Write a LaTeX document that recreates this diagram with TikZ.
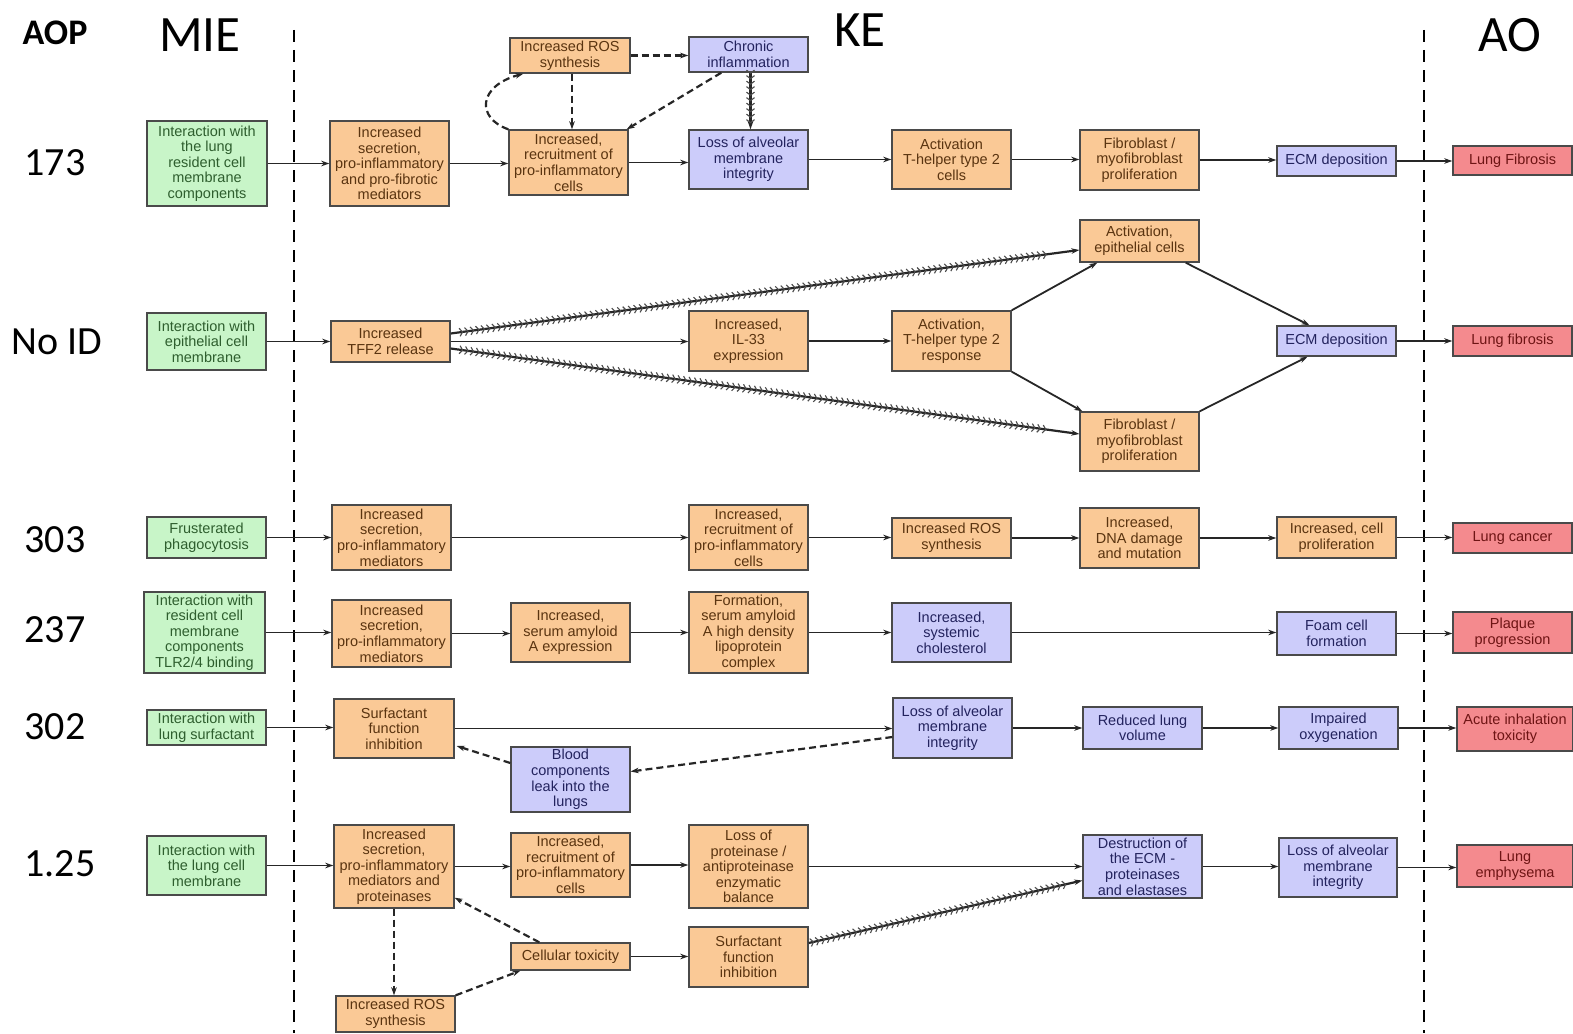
\documentclass[tikz,border=0pt]{standalone}
\usepackage{fontspec}
\setmainfont{Liberation Sans}
\newfontfamily\hdfont{Carlito}
\usetikzlibrary{arrows.meta,decorations.markings,calc}
\definecolor{gfill}{HTML}{C8F5C8}
\definecolor{ofill}{HTML}{FAC996}
\definecolor{bfill}{HTML}{CCCCFA}
\definecolor{rfill}{HTML}{F48A8E}
\definecolor{gtext}{HTML}{2E5E2E}
\definecolor{otext}{HTML}{5A3410}
\definecolor{btext}{HTML}{23235E}
\definecolor{rtext}{HTML}{6E1414}
\definecolor{bord}{HTML}{4A4A4A}
\tikzset{
 bx/.style={draw=bord, line width=1.4pt, align=center, inner sep=0pt, font=\fontsize{14.5}{15.6}\selectfont},
 gb/.style={bx, fill=gfill, text=gtext},
 ob/.style={bx, fill=ofill, text=otext},
 bb/.style={bx, fill=bfill, text=btext},
 rb/.style={bx, fill=rfill, text=rtext},
 arr/.style={line width=1.8pt, draw=black!85, -{Stealth[length=8pt,width=5.5pt]}},
 dsh/.style={line width=2.2pt, draw=black!85, dash pattern=on 7pt off 4pt, -{Stealth[length=8pt,width=5.5pt]}},
 hatch/.style={line width=2.2pt, draw=black!85, -{Stealth[length=8pt,width=5.5pt]}, postaction={decorate},
   decoration={markings, mark=between positions 0.02 and 0.95 step 5.5pt with {\arrow[black!70]{Straight Barb[length=3pt,width=8pt,line width=1.1pt]}}}},
 sepline/.style={line width=2.8pt, dash pattern=on 12pt off 8pt},
 hd/.style={font=\hdfont\fontsize{51}{51}\selectfont, inner sep=0pt},
 lbl/.style={font=\hdfont\fontsize{40}{40}\selectfont, inner sep=0pt},
}
\newcommand\hcon[2]{\draw[arr] (#1.east) -- (#1.east -| #2.west);}
\begin{document}
\begin{tikzpicture}[x=1pt,y=-1pt]
\fill[white] (0,0) rectangle (1573,1033);
\useasboundingbox (0,0) rectangle (1573,1033);
% separators
\draw[sepline] (294,30) -- (294,1033);
\draw[sepline] (1424,30) -- (1424,1033);
% headers
\node[font=\hdfont\bfseries\fontsize{36}{36}\selectfont, inner sep=0pt] (haop) at (55,33) {AOP};
\node[hd] (hmie) at (200,35) {MIE};
\node[hd] (hke) at (860,30) {KE};
\node[hd] (hao) at (1510,35) {AO};
\node[lbl] (l1) at (55,163) {173};
\node[lbl] (l2) at (57,342) {No ID};
\node[lbl] (l3) at (55,540) {303};
\node[lbl] (l4) at (55,630) {237};
\node[lbl] (l5) at (55,727) {302};
\node[lbl] (l6) at (60,864) {1.25};
% Row 173
\node[gb, minimum width=120pt, minimum height=85pt] (g1) at (207,163.5) {Interaction with\\the lung\\resident cell\\membrane\\components};
\node[ob, minimum width=119pt, minimum height=85pt] (o1a) at (389.5,163.5) {Increased\\secretion,\\pro-inflammatory\\and pro-fibrotic\\mediators};
\node[ob, minimum width=119pt, minimum height=65pt] (rec1) at (568.5,162.5) {Increased,\\recruitment of\\pro-inflammatory\\cells};
\node[ob, minimum width=120pt, minimum height=35pt] (ros1) at (570,55.5) {Increased ROS\\synthesis};
\node[bb, minimum width=119pt, minimum height=35pt] (chr) at (748.5,54.5) {Chronic\\inflammation};
\node[bb, minimum width=119pt, minimum height=59pt] (loss1) at (748.5,159.5) {Loss of alveolar\\membrane\\integrity};
\node[ob, minimum width=119pt, minimum height=59pt] (th1) at (951.5,159.5) {Activation\\T-helper type 2\\cells};
\node[ob, minimum width=119pt, minimum height=60pt] (fib1) at (1139.5,160) {Fibroblast /\\myofibroblast\\proliferation};
\node[bb, minimum width=119pt, minimum height=30pt] (ecm1) at (1336.5,161) {ECM deposition};
\node[rb, minimum width=119pt, minimum height=29pt] (lf1) at (1512.5,160.5) {Lung Fibrosis};
\hcon{g1}{o1a} \hcon{o1a}{rec1} \hcon{rec1}{loss1} \hcon{loss1}{th1} \hcon{th1}{fib1} \hcon{fib1}{ecm1} \hcon{ecm1}{lf1}
\draw[dsh] (ros1.east) -- (ros1.east -| chr.west);
\draw[dsh] ([xshift=2pt]ros1.south) -- ([xshift=2pt]ros1.south |- rec1.north);
\draw[dsh] (rec1.north west) .. controls (476,118) and (478,86) .. ([xshift=14pt]ros1.south west);
\draw[dsh] ([xshift=33pt]chr.south west) -- ([xshift=-2pt]rec1.north east);
\draw[hatch] ([xshift=2pt]chr.south) -- ([xshift=2pt]chr.south |- loss1.north);
% Row No ID
\node[gb, minimum width=119pt, minimum height=57pt] (g2) at (206.5,341.5) {Interaction with\\epithelial cell\\membrane};
\node[ob, minimum width=119pt, minimum height=41pt] (tff) at (390.5,341.5) {Increased\\TFF2 release};
\node[ob, minimum width=119pt, minimum height=60pt] (il33) at (748.5,341) {Increased,\\IL-33\\expression};
\node[ob, minimum width=119pt, minimum height=60pt] (th2) at (951.5,341) {Activation,\\T-helper type 2\\response};
\node[ob, minimum width=119pt, minimum height=42pt] (ae) at (1139.5,241) {Activation,\\epithelial cells};
\node[ob, minimum width=119pt, minimum height=59pt] (fib2) at (1139.5,441.5) {Fibroblast /\\myofibroblast\\proliferation};
\node[bb, minimum width=119pt, minimum height=30pt] (ecm2) at (1336.5,341) {ECM deposition};
\node[rb, minimum width=119pt, minimum height=30pt] (lf2) at (1512.5,341) {Lung fibrosis};
\hcon{g2}{tff} \hcon{tff}{il33} \hcon{il33}{th2} \hcon{ecm2}{lf2}
\draw[arr] (th2.north east) -- ([xshift=18pt]ae.south west);
\draw[arr] (th2.south east) -- ([xshift=3pt]fib2.north west);
\draw[arr] ([xshift=-14pt]ae.south east) -- ([xshift=-27pt]ecm2.north);
\draw[arr] (fib2.north east) -- ([xshift=-29pt]ecm2.south);
\draw[hatch] ([yshift=8pt]tff.east) -- ([yshift=-9pt]ae.west);
\draw[hatch] ([yshift=-7pt]tff.east) -- ([yshift=7.5pt]fib2.west);
% Row 303
\node[gb, minimum width=119pt, minimum height=41pt] (g3) at (206.5,537.5) {Frusterated\\phagocytosis};
\node[ob, minimum width=119pt, minimum height=65pt] (o3) at (391.5,537.5) {Increased\\secretion,\\pro-inflammatory\\mediators};
\node[ob, minimum width=119pt, minimum height=65pt] (rec3) at (748.5,537.5) {Increased,\\recruitment of\\pro-inflammatory\\cells};
\node[ob, minimum width=119pt, minimum height=40pt] (ros3) at (951.5,538) {Increased ROS\\synthesis};
\node[ob, minimum width=119pt, minimum height=60pt] (dna) at (1139.5,538) {Increased,\\DNA damage\\and mutation};
\node[ob, minimum width=119pt, minimum height=41pt] (cp) at (1336.5,537.5) {Increased, cell\\proliferation};
\node[rb, minimum width=119pt, minimum height=30pt] (lc) at (1512.5,538) {Lung cancer};
\hcon{g3}{o3} \hcon{o3}{rec3} \hcon{rec3}{ros3} \hcon{ros3}{dna} \hcon{dna}{cp} \hcon{cp}{lc}
% Row 237
\node[gb, minimum width=121pt, minimum height=81pt] (g4) at (204.5,632.5) {Interaction with\\resident cell\\membrane\\components\\TLR2/4 binding};
\node[ob, minimum width=119pt, minimum height=67pt] (o4) at (391.5,633.5) {Increased\\secretion,\\pro-inflammatory\\mediators};
\node[ob, minimum width=119pt, minimum height=59pt] (sa) at (570.5,632.5) {Increased,\\serum amyloid\\A expression};
\node[ob, minimum width=119pt, minimum height=81pt] (form) at (748.5,632.5) {Formation,\\serum amyloid\\A high density\\lipoprotein\\complex};
\node[bb, minimum width=119pt, minimum height=59pt] (chol) at (951.5,632.5) {Increased,\\systemic\\cholesterol};
\node[bb, minimum width=119pt, minimum height=43pt] (foam) at (1336.5,633.5) {Foam cell\\formation};
\node[rb, minimum width=119pt, minimum height=41pt] (plq) at (1512.5,632.5) {Plaque\\progression};
\hcon{g4}{o4} \hcon{o4}{sa} \hcon{sa}{form} \hcon{form}{chol} \hcon{chol}{foam} \hcon{foam}{plq}
% Row 302
\node[gb, minimum width=119pt, minimum height=35pt] (g5) at (206.5,727.5) {Interaction with\\lung surfactant};
\node[ob, minimum width=120pt, minimum height=59pt] (surf) at (394,728.5) {Surfactant\\function\\inhibition};
\node[bb, minimum width=119pt, minimum height=65pt] (blood) at (570.5,779.5) {Blood\\components\\leak into the\\lungs};
\node[bb, minimum width=119pt, minimum height=60pt] (la5) at (952.5,728) {Loss of alveolar\\membrane\\integrity};
\node[bb, minimum width=119pt, minimum height=42pt] (rlv) at (1142.5,728) {Reduced lung\\volume};
\node[bb, minimum width=119pt, minimum height=42pt] (imp) at (1338.5,728) {Impaired\\oxygenation};
\node[rb, minimum width=116pt, minimum height=44pt] (acute) at (1515,729) {Acute inhalation\\toxicity};
\hcon{g5}{surf} \hcon{surf}{la5} \hcon{la5}{rlv} \hcon{rlv}{imp} \hcon{imp}{acute}
\draw[dsh] ([yshift=-9pt]la5.west) -- ([yshift=8pt]blood.east);
\draw[dsh] ([yshift=16.5pt]blood.west) -- ([xshift=2pt,yshift=-17.5pt]surf.east);
% Row 1.25
\node[gb, minimum width=119pt, minimum height=59pt] (g6) at (206.5,865.5) {Interaction with\\the lung cell\\membrane};
\node[ob, minimum width=120pt, minimum height=83pt] (o6) at (394,866.5) {Increased\\secretion,\\pro-inflammatory\\mediators and\\proteinases};
\node[ob, minimum width=119pt, minimum height=64pt] (rec6) at (570.5,865) {Increased,\\recruitment of\\pro-inflammatory\\cells};
\node[ob, minimum width=119pt, minimum height=83pt] (lpb) at (748.5,866.5) {Loss of\\proteinase /\\antiproteinase\\enzymatic\\balance};
\node[bb, minimum width=119pt, minimum height=63pt] (dest) at (1142.5,866.5) {Destruction of\\the ECM -\\proteinases\\and elastases};
\node[bb, minimum width=118pt, minimum height=59pt] (la6) at (1338,867.5) {Loss of alveolar\\membrane\\integrity};
\node[rb, minimum width=116pt, minimum height=42pt] (emph) at (1515,866) {Lung\\emphysema};
\node[ob, minimum width=119pt, minimum height=36pt] (ros6) at (395.5,1014) {Increased ROS\\synthesis};
\node[ob, minimum width=119pt, minimum height=27pt] (ctox) at (570.5,956.5) {Cellular toxicity};
\node[ob, minimum width=119pt, minimum height=60pt] (surf6) at (748.5,957) {Surfactant\\function\\inhibition};
\hcon{g6}{o6} \hcon{o6}{rec6} \hcon{rec6}{lpb} \hcon{lpb}{dest} \hcon{dest}{la6} \hcon{la6}{emph} \hcon{ctox}{surf6}
\draw[dsh] (o6.south) -- (o6.south |- ros6.north);
\draw[dsh] (ros6.north east) -- ([xshift=10pt]ctox.south west);
\draw[dsh] ([xshift=29pt]ctox.north west) -- ([yshift=11pt]o6.south east);
\draw[hatch] ([yshift=14pt]surf6.east) -- ([yshift=-14pt]dest.west);
\end{tikzpicture}
\end{document}
